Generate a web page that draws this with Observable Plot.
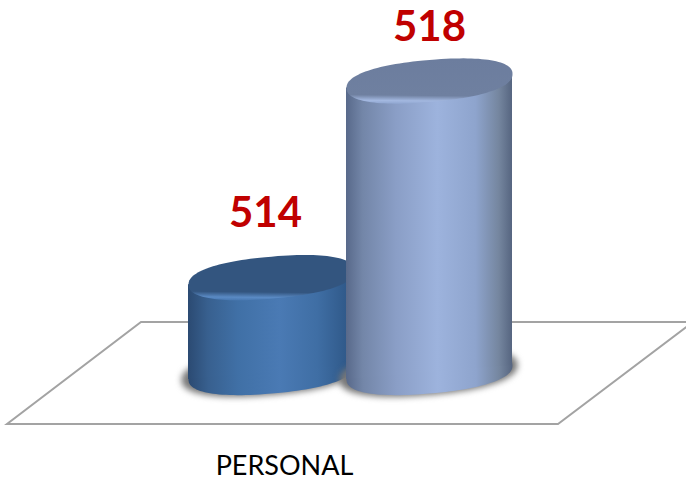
<!DOCTYPE html>
<html>
<head>
<meta charset="utf-8">
<style>html,body{margin:0;padding:0;background:#fff}svg{display:block}</style>
<script src="https://cdn.jsdelivr.net/npm/d3@7"></script>
<script src="https://cdn.jsdelivr.net/npm/@observablehq/plot@0.6"></script>
</head>
<body>
<div id="chart"></div>
<script>
const categories = ["PERSONAL"];
const series = ["Serie 1", "Serie 2"];
const values = [514, 518];
const axisFloor = 512.07;

const rows = series.map((s, i) => ({series: s, value: values[i]}));

// Tilted, slightly squared ellipse used for the cylinder caps and bases
const flat = 21 / 83, tilt = 7 / 83, power = 2 / 2.3;
const ellipse = {
  draw(ctx, size) {
    const a = Math.sqrt(size / Math.PI);
    for (let k = 0; k < 120; k++) {
      const t = (k / 120) * 2 * Math.PI;
      const c = Math.cos(t), s = Math.sin(t);
      const px = a * Math.sign(c) * Math.abs(c) ** power;
      const py = a * flat * Math.sign(s) * Math.abs(s) ** power - tilt * px;
      k ? ctx.lineTo(px, py) : ctx.moveTo(px, py);
    }
    ctx.closePath();
  }
};

const looks = [
  {id: "a", body: [[0,"#2b4a72"],[0.12,"#38608f"],[0.3,"#4070a6"],[0.55,"#4a7ab4"],[0.78,"#3f6ea4"],[1,"#2c5483"]],
   cap: [[0,"#33557f"],[0.82,"#33557f"],[0.94,"#5a8ac4"],[1,"#4a7ab4"]], dx: -6, dy: -64},
  {id: "b", body: [[0,"#58698a"],[0.1,"#7386a8"],[0.3,"#8a9ec6"],[0.55,"#9db3dd"],[0.78,"#8ea4cd"],[0.92,"#75869f"],[1,"#566580"]],
   cap: [[0,"#6c7d9e"],[0.82,"#6f80a0"],[0.94,"#a3b8e0"],[1,"#92a8d2"]], dx: 0, dy: -53}
];

function defs() {
  const d = d3.create("svg:defs");
  for (const l of looks) {
    const g = d.append("linearGradient").attr("id", "body-" + l.id).attr("x1", 0).attr("x2", 1).attr("y1", 0).attr("y2", 0);
    l.body.forEach(([o, c]) => g.append("stop").attr("offset", o).attr("stop-color", c));
    const h = d.append("linearGradient").attr("id", "cap-" + l.id).attr("x1", 0.52).attr("x2", 0.48).attr("y1", 0).attr("y2", 1);
    l.cap.forEach(([o, c]) => h.append("stop").attr("offset", o).attr("stop-color", c));
  }
  return d.node();
}

function floorPlane() {
  return d3.create("svg:polygon")
    .attr("points", "141,322 693,322 558,424 7,424")
    .attr("fill", "none").attr("stroke", "#a3a3a3").attr("stroke-width", 2)
    .attr("stroke-linejoin", "miter").node();
}

// Lean the bar with the same tilt as its ellipses
function lean(index, scales, channels, dims, ctx, next) {
  const g = next(index, scales, channels, dims, ctx);
  d3.select(g).selectAll("rect").attr("transform", function () {
    const cx = +this.getAttribute("x") + +this.getAttribute("width") / 2;
    return `translate(${cx},0) skewY(${-Math.atan(tilt) * 180 / Math.PI}) translate(${-cx},0)`;
  });
  return g;
}

function cylinder(row, look) {
  const one = [row];
  return [
    Plot.dot(one, {x: "series", y: () => axisFloor, r: 89, dx: -1, dy: 0, symbol: ellipse, fill: "#777777", stroke: "none", imageFilter: "blur(3px)"}),
    Plot.dot(one, {x: "series", y: () => axisFloor, r: 83, symbol: ellipse, fill: `url(#body-${look.id})`, stroke: "none"}),
    Plot.barY(one, {x: "series", y1: () => axisFloor, y2: "value", insetLeft: -4, insetRight: -4, fill: `url(#body-${look.id})`, render: lean}),
    Plot.dot(one, {x: "series", y: "value", r: 83, symbol: ellipse, fill: `url(#cap-${look.id})`, stroke: "none", imageFilter: "blur(0.5px)"}),
    Plot.text(one, {x: "series", y: "value", text: d => String(d.value), dx: look.dx, dy: look.dy, fill: "#c00000", fontSize: 42, fontWeight: 700, fontFamily: "Lato"})
  ];
}

const chart = Plot.plot({
  width: 686,
  height: 479,
  margin: 0,
  x: {type: "band", domain: series, range: [192, 508], padding: 0, axis: null},
  y: {domain: [axisFloor, 518], range: [372, 80.5], axis: null},
  marks: [
    defs,
    floorPlane,
    ...rows.flatMap((r, i) => cylinder(r, looks[i])),
    Plot.text(categories, {text: d => d, frameAnchor: "bottom", dx: -59, dy: -5, fontSize: 27, fontFamily: "Lato", fill: "#000"})
  ]
});
document.getElementById("chart").append(chart);
</script>
</body>
</html>
